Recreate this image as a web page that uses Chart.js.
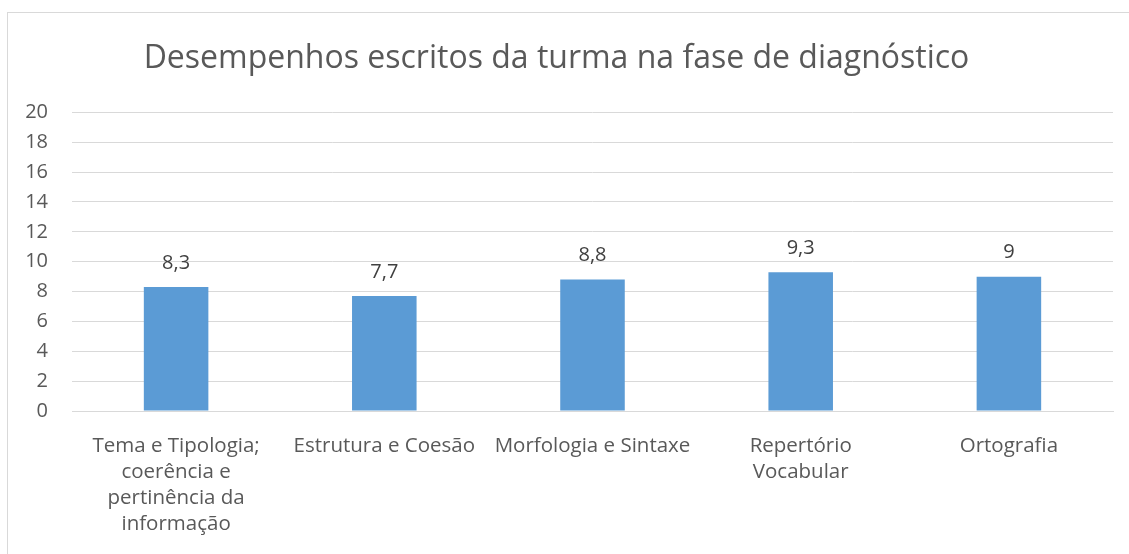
<!DOCTYPE html>
<html lang="en">
<head>
    <meta charset="UTF-8">
    <title>Desempenhos escritos da turma na fase de diagnóstico</title>
    <script src="https://cdn.jsdelivr.net/npm/chart.js"></script>
    <style>
        html, body { margin: 0; padding: 0; background: #fff; overflow: hidden; }
        #frame {
            position: absolute; left: 7px; top: 12px;
            width: 1160px; height: 600px;
            border: 1px solid #d9d9d9; box-sizing: border-box;
        }
        #chartContainer { position: absolute; left: 0; top: 0; width: 1129px; height: 554px; }
    </style>
</head>
<body>
    <div id="frame"></div>
    <div id="chartContainer">
        <canvas id="barChart" width="1129" height="554"></canvas>
    </div>

    <script>
        const categories = [
            ['Tema e Tipologia;', 'coerência e', 'pertinência da', 'informação'],
            'Estrutura e Coesão',
            'Morfologia e Sintaxe',
            ['Repertório', 'Vocabular'],
            'Ortografia'
        ];
        const scores = [8.3, 7.7, 8.8, 9.3, 9];
        const yTicks = [0, 2, 4, 6, 8, 10, 12, 14, 16, 18, 20];

        const textColor = '#595959';
        const fontFamily = '"Open Sans", sans-serif';

        // value labels above each bar, with decimal comma
        const valueLabels = {
            id: 'valueLabels',
            afterDatasetsDraw(chart) {
                const ctx = chart.ctx;
                const meta = chart.getDatasetMeta(0);
                ctx.save();
                ctx.font = '20px ' + fontFamily;
                ctx.fillStyle = '#404040';
                ctx.textAlign = 'center';
                ctx.textBaseline = 'middle';
                meta.data.forEach((bar, i) => {
                    ctx.fillText(String(scores[i]).replace('.', ','), bar.x, bar.y - 24);
                });
                ctx.restore();
            }
        };

        const ctx = document.getElementById('barChart').getContext('2d');
        new Chart(ctx, {
            type: 'bar',
            data: {
                labels: categories,
                datasets: [{
                    data: scores,
                    backgroundColor: '#5b9bd5',
                    barPercentage: 0.31,
                    categoryPercentage: 1
                }]
            },
            options: {
                responsive: false,
                animation: false,
                layout: { padding: { left: 0, right: 16, top: 0, bottom: 0 } },
                plugins: {
                    legend: { display: false },
                    tooltip: { enabled: false },
                    title: {
                        display: true,
                        text: 'Desempenhos escritos da turma na fase de diagnóstico',
                        color: textColor,
                        font: { family: fontFamily, size: 32, weight: 'normal' },
                        padding: { top: 40, bottom: 34 }
                    }
                },
                scales: {
                    y: {
                        min: 0,
                        max: 20,
                        afterBuildTicks(scale) {
                            scale.ticks = yTicks.map(v => ({ value: v }));
                        },
                        afterFit(scale) { scale.width = 72; },
                        border: { display: false },
                        grid: { color: '#d9d9d9', drawTicks: false },
                        ticks: {
                            color: textColor,
                            padding: 24,
                            font: { family: fontFamily, size: 20 }
                        }
                    },
                    x: {
                        afterFit(scale) { scale.height = 143; },
                        border: { color: '#d9d9d9' },
                        grid: { display: false },
                        ticks: {
                            color: textColor,
                            padding: 14,
                            maxRotation: 0,
                            autoSkip: false,
                            font: { family: fontFamily, size: 20.5, lineHeight: 1.27 }
                        }
                    }
                }
            },
            plugins: [valueLabels]
        });
    </script>
</body>
</html>
